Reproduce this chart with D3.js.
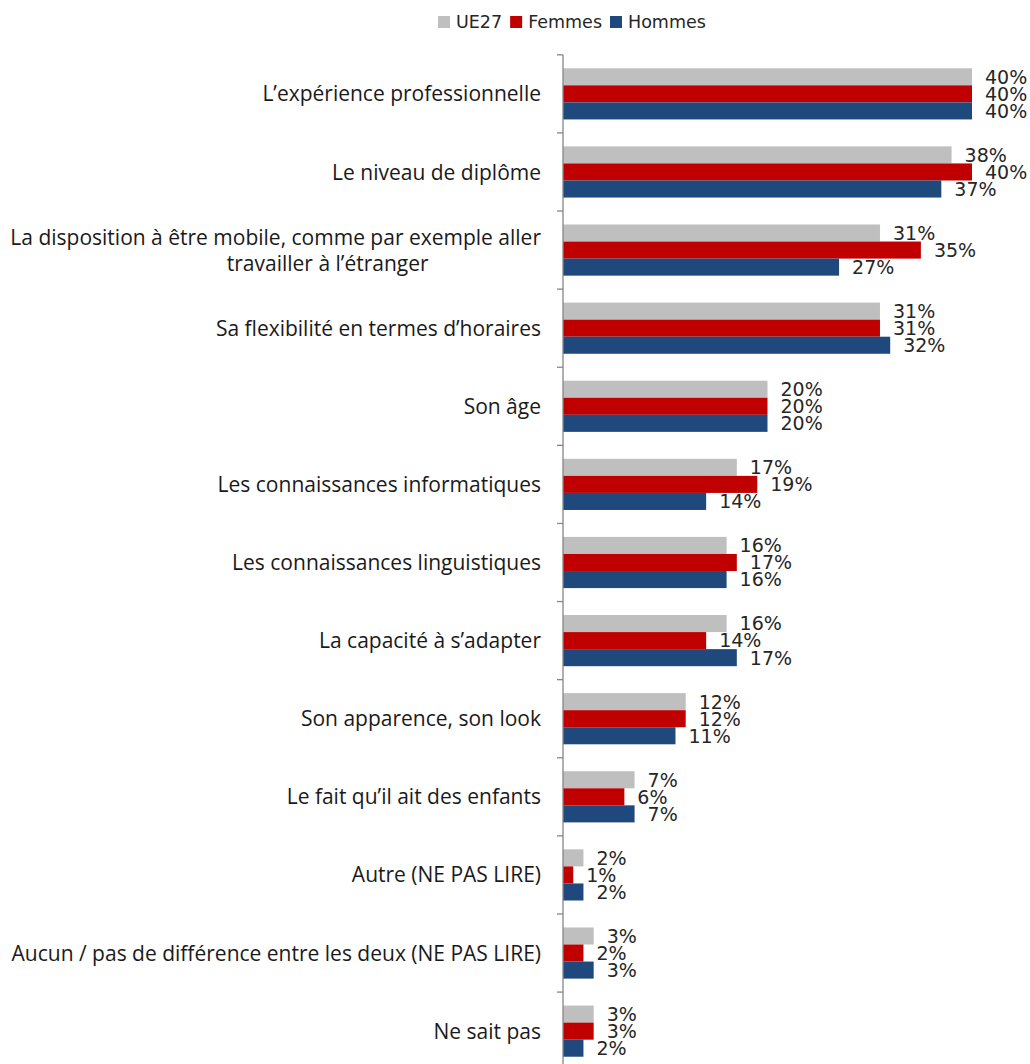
<!DOCTYPE html>
<html>
<head>
<meta charset="utf-8">
<script src="https://cdn.jsdelivr.net/npm/d3@7"></script>
<style>
  body { margin: 0; background: #fff; }
  svg { display: block; }
</style>
</head>
<body>
<div id="chart"></div>
<script>
// Data
const categories = [
  "L\u2019expérience professionnelle",
  "Le niveau de diplôme",
  "La disposition à être mobile, comme par exemple aller|travailler à l\u2019étranger",
  "Sa flexibilité en termes d\u2019horaires",
  "Son âge",
  "Les connaissances informatiques",
  "Les connaissances linguistiques",
  "La capacité à s\u2019adapter",
  "Son apparence, son look",
  "Le fait qu\u2019il ait des enfants",
  "Autre (NE PAS LIRE)",
  "Aucun / pas de différence entre les deux (NE PAS LIRE)",
  "Ne sait pas"
];
const seriesNames = ["UE27", "Femmes", "Hommes"];
const ue27   = [40, 38, 31, 31, 20, 17, 16, 16, 12, 7, 2, 3, 3];
const femmes = [40, 40, 35, 31, 20, 19, 17, 14, 12, 6, 1, 2, 3];
const hommes = [40, 37, 27, 32, 20, 14, 16, 17, 11, 7, 2, 3, 2];
const colors = ["#BFBFBF", "#C00000", "#1F497D"];

const width = 1030, height = 1064;
const svg = d3.select('#chart').append('svg')
  .attr('width', width)
  .attr('height', height);

const x = d3.scaleLinear().domain([0, 40]).range([563, 972]);
const y = d3.scaleBand().domain(d3.range(categories.length)).range([55, 1070]).paddingInner(0.345).paddingOuter(0.17);
const ySub = d3.scaleBand().domain(d3.range(3)).range([0, y.bandwidth()]);

const allSeries = [ue27, femmes, hommes];

// Bars + value labels
allSeries.forEach((vals, s) => {
  svg.append('g')
    .selectAll('rect')
    .data(vals)
    .join('rect')
    .attr('x', x(0))
    .attr('y', (d, i) => y(i) + ySub(s))
    .attr('width', d => x(d) - x(0))
    .attr('height', ySub.bandwidth())
    .attr('fill', colors[s]);

  svg.append('g')
    .selectAll('text')
    .data(vals)
    .join('text')
    .attr('x', d => x(d) + 13)
    .attr('y', (d, i) => y(i) + ySub(s) + ySub.bandwidth() / 2)
    .attr('dy', '0.36em')
    .attr('font-family', 'DejaVu Sans, sans-serif')
    .attr('font-size', 19)
    .attr('fill', '#262626')
    .text(d => d + '%');
});

// Axis line and ticks at category boundaries
const axisG = svg.append('g');
axisG.append('line')
  .attr('x1', x(0)).attr('x2', x(0))
  .attr('y1', 55).attr('y2', height)
  .attr('stroke', '#868686').attr('stroke-width', 1.3);
const step = y.step();
d3.range(categories.length + 1).forEach(i => {
  const ty = y(0) - y.paddingInner() * step / 2 + i * step;
  axisG.append('line')
    .attr('x1', x(0) - 6).attr('x2', x(0))
    .attr('y1', ty).attr('y2', ty)
    .attr('stroke', '#868686').attr('stroke-width', 1.3);
});

// Category labels
const labelG = svg.append('g')
  .attr('font-family', '"Open Sans", sans-serif')
  .attr('font-size', 21)
  .attr('fill', '#1a1a1a');
categories.forEach((c, i) => {
  const cy = y(i) + y.bandwidth() / 2;
  const lines = c.split('|');
  if (lines.length === 1) {
    labelG.append('text')
      .attr('x', 541).attr('y', cy)
      .attr('dy', '0.36em')
      .attr('text-anchor', 'end')
      .text(c);
  } else {
    const t1 = labelG.append('text')
      .attr('x', 541).attr('y', cy - 13)
      .attr('dy', '0.36em')
      .attr('text-anchor', 'end')
      .text(lines[0]);
    const w = t1.node().getComputedTextLength();
    labelG.append('text')
      .attr('x', 541 - w / 2 + 52).attr('y', cy + 13)
      .attr('dy', '0.36em')
      .attr('text-anchor', 'middle')
      .text(lines[1]);
  }
});

// Legend
const legend = svg.append('g')
  .attr('font-family', 'DejaVu Sans, sans-serif')
  .attr('font-size', 17.5)
  .attr('fill', '#262626');
let lx = 438;
seriesNames.forEach((name, s) => {
  legend.append('rect')
    .attr('x', lx).attr('y', 16)
    .attr('width', 12).attr('height', 12)
    .attr('fill', colors[s]);
  const t = legend.append('text')
    .attr('x', lx + 18).attr('y', 28)
    .text(name);
  lx += 18 + t.node().getComputedTextLength() + 8;
});
</script>
</body>
</html>
